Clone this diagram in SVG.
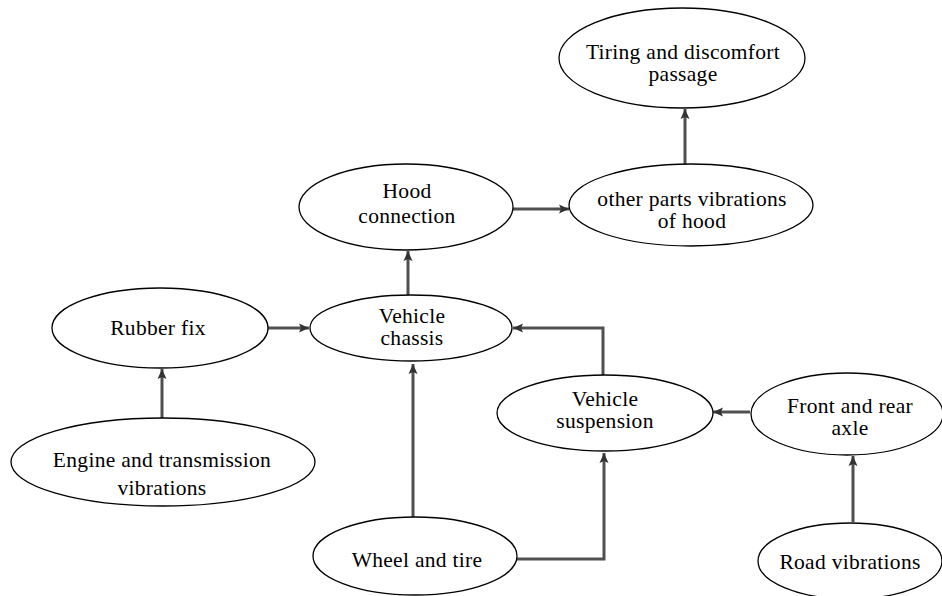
<svg xmlns="http://www.w3.org/2000/svg" width="942" height="596" viewBox="0 0 942 596">
<style>
  .node ellipse { fill: #fff; stroke: #000; stroke-width: 1.3; }
  .node text { font-family: "Liberation Serif", "Times New Roman", serif; font-size: 21.5px; letter-spacing: 0.3px; fill: #000; text-anchor: middle; }
  .conn path { fill: none; stroke: #505050; stroke-width: 3; marker-end: url(#arr); }
</style>
<defs>
  <marker id="arr" markerUnits="userSpaceOnUse" markerWidth="10" markerHeight="10" refX="10" refY="5" orient="auto">
    <path d="M0,0.5 L10,5 L0,9.5 L2,5 z" fill="#333"/>
  </marker>
</defs>
<rect width="942" height="596" fill="#fff"/>
<g class="conn" id="connectors">
  <path d="M268,328 L309,328"/>
  <path d="M162,418 L162,369"/>
  <path d="M408,295 L408,251"/>
  <path d="M513,209 L569,209"/>
  <path d="M685,164 L685,109"/>
  <path d="M413,517 L413,364"/>
  <path d="M517,559 L604,559 L604,453"/>
  <path d="M603,375 L603,328 L513,328"/>
  <path d="M750,412 L713,412"/>
  <path d="M853,522 L853,456"/>
</g>
<g class="node" id="tiring">
  <ellipse cx="682" cy="58" rx="123" ry="50"/>
  <text x="683" y="59">Tiring and discomfort</text>
  <text x="683" y="81">passage</text>
</g>
<g class="node" id="other-parts">
  <ellipse cx="691" cy="205" rx="122" ry="41"/>
  <text x="692" y="206">other parts  vibrations</text>
  <text x="692" y="228">of hood</text>
</g>
<g class="node" id="hood">
  <ellipse cx="406" cy="207" rx="107" ry="43"/>
  <text x="407" y="198">Hood</text>
  <text x="407" y="223">connection</text>
</g>
<g class="node" id="chassis">
  <ellipse cx="411" cy="328" rx="101" ry="33"/>
  <text x="412" y="323">Vehicle</text>
  <text x="412" y="345">chassis</text>
</g>
<g class="node" id="rubber">
  <ellipse cx="160" cy="328" rx="108" ry="40"/>
  <text x="158" y="335">Rubber fix</text>
</g>
<g class="node" id="engine">
  <ellipse cx="163" cy="462" rx="152" ry="44"/>
  <text x="162" y="467">Engine and  transmission</text>
  <text x="162" y="495">vibrations</text>
</g>
<g class="node" id="wheel">
  <ellipse cx="415" cy="556" rx="102" ry="39"/>
  <text x="417" y="567">Wheel and tire</text>
</g>
<g class="node" id="suspension">
  <ellipse cx="605" cy="413" rx="108" ry="38"/>
  <text x="605" y="406">Vehicle</text>
  <text x="605" y="428">suspension</text>
</g>
<g class="node" id="axle">
  <ellipse cx="847" cy="414" rx="96" ry="41"/>
  <text x="850" y="413">Front  and rear</text>
  <text x="850" y="435">axle</text>
</g>
<g class="node" id="road">
  <ellipse cx="850" cy="561" rx="92" ry="38"/>
  <text x="850" y="569">Road vibrations</text>
</g>
</svg>
